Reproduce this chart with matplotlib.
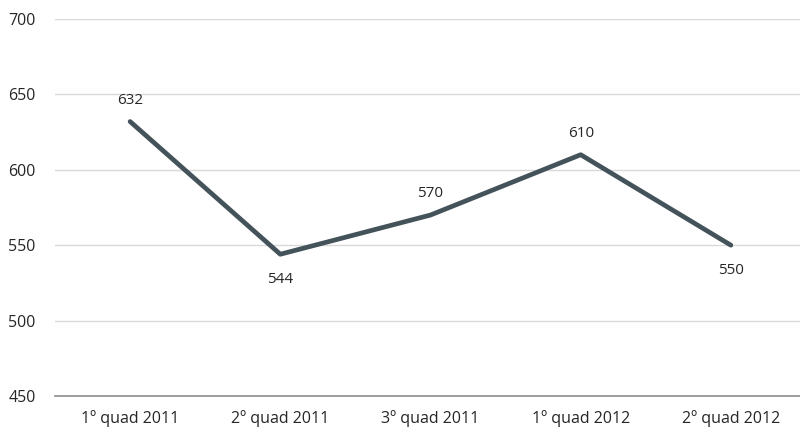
import matplotlib.pyplot as plt

categories = ["1º quad 2011", "2º quad 2011", "3º quad 2011", "1º quad 2012", "2º quad 2012"]
values = [632, 544, 570, 610, 550]
label_side = ["above", "below", "above", "above", "below"]
y_ticks = [450, 500, 550, 600, 650, 700]

plt.rcParams["font.family"] = ["Open Sans", "DejaVu Sans"]

fig = plt.figure(figsize=(8, 4.32), dpi=100)
ax = fig.add_axes([55 / 800, 36 / 432, 751 / 800, 377 / 432])

x = list(range(len(categories)))
ax.plot(x, values, color="#44525a", linewidth=3.4, solid_capstyle="round",
        solid_joinstyle="round", zorder=3)

for xi, v, side in zip(x, values, label_side):
    if side == "above":
        ax.annotate(str(v), (xi, v), xytext=(0, 10), textcoords="offset points",
                    ha="center", va="bottom", fontsize=11, color="#262626")
    else:
        ax.annotate(str(v), (xi, v), xytext=(0, -13), textcoords="offset points",
                    ha="center", va="top", fontsize=11, color="#262626")

ax.set_xlim(-0.5, len(categories) - 0.5)
ax.set_ylim(450, 700)
ax.set_yticks(y_ticks)
ax.set_xticks(x)
ax.set_xticklabels(categories)
ax.yaxis.grid(True, color="#d9d9d9", linewidth=1)
ax.set_axisbelow(True)

for side in ["top", "right", "left"]:
    ax.spines[side].set_visible(False)
ax.spines["bottom"].set_color("#8c8c8c")
ax.spines["bottom"].set_linewidth(1.2)

ax.tick_params(axis="both", length=0, labelsize=11.5, colors="#262626")
ax.tick_params(axis="y", pad=14)
ax.tick_params(axis="x", pad=10)

fig.savefig("out.png", dpi=100)
